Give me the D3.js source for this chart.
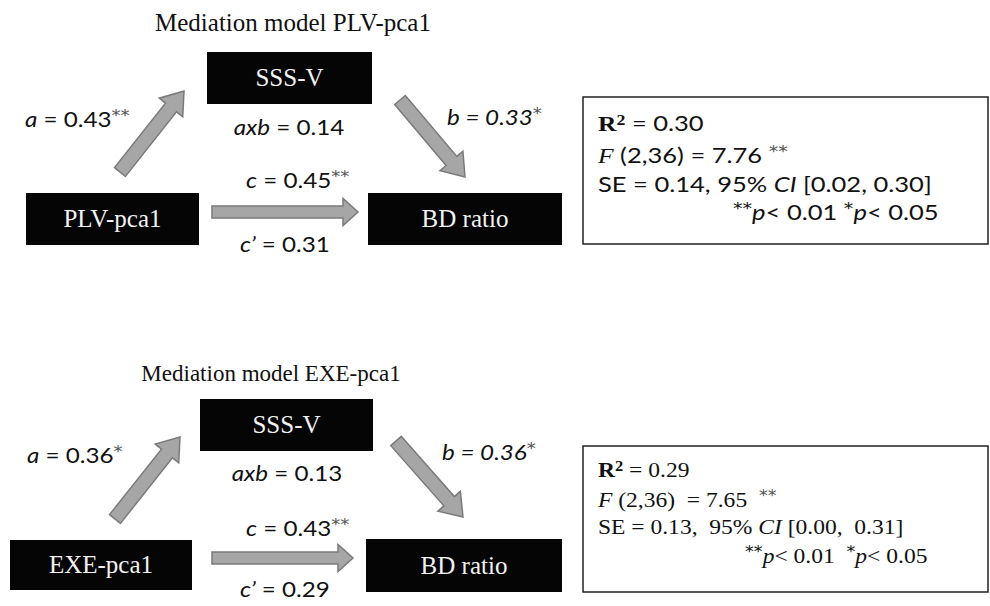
<!DOCTYPE html>
<html>
<head>
<meta charset="utf-8">
<script src="https://cdn.jsdelivr.net/npm/d3@7"></script>
<style>
  body { margin: 0; background: #fff; }
</style>
</head>
<body>
<div id="chart"></div>
<script>
// names and path coefficients, top panel first then bottom panel
const predictors = ["PLV-pca1", "EXE-pca1"];
const mediator = "SSS-V";
const outcome = "BD ratio";
const aCoef = ["0.43", "0.36"];
const aStars = ["**", "*"];
const bCoef = ["0.33", "0.36"];
const bStars = ["*", "*"];
const abCoef = ["0.14", "0.13"];
const cCoef = ["0.45", "0.43"];
const cStars = ["**", "**"];
const cPrimeCoef = ["0.31", "0.29"];
// model summary boxes
const rSquared = ["0.30", "0.29"];
const fDf = "(2,36)";
const fStat = ["7.76", "7.65"];
const seValues = ["0.14", "0.13"];
const ciLow = ["0.02", "0.00"];
const ciHigh = ["0.30", "0.31"];

var width = 990, height = 606;
var serif = "'Liberation Serif', 'Times New Roman', serif";
var sans = "Lato, 'Open Sans', sans-serif";
var starFont = "'DejaVu Sans', sans-serif";

// where each panel sits (pixel layout, not data)
var layout = [
  {
    title: [293, 31, 25], med: [207, 52, 372, 104], pred: [26, 193, 199, 245], out: [368, 193, 562, 245],
    aLab: [25, 127], abLab: [289, 135], bLab: [447, 125], cLab: [246, 188], cpLab: [240, 252],
    aArrow: [120, 172, 184, 91], bArrow: [400, 100, 465, 177], cArrow: [212, 212, 358, 212],
    stats: [583, 97, 988, 244], lines: [131, 163, 192, 220], pX: 733,
    statFont: sans, statSx: 1.16, gap: " "
  },
  {
    title: [271, 381, 23], med: [200, 399, 373, 451], pred: [10, 540, 192, 590], out: [366, 539, 562, 592],
    aLab: [27, 463], abLab: [287, 481], bLab: [442, 460], cLab: [246, 536], cpLab: [240, 597],
    aArrow: [115, 519, 180, 437], bArrow: [396, 441, 463, 517], cArrow: [212, 558, 353, 558],
    stats: [583, 446, 988, 592], lines: [477, 507, 534, 563], pX: 745,
    statFont: serif, statSx: 1.07, gap: "\u00a0\u00a0"
  }
];

var svg = d3.select("#chart")
  .append("svg")
  .attr("width", width)
  .attr("height", height);

// block arrow as one polygon
function arrowPath(a, shaft, head, headLen) {
  var x1 = a[0], y1 = a[1], x2 = a[2], y2 = a[3];
  var L = Math.hypot(x2 - x1, y2 - y1), ux = (x2 - x1) / L, uy = (y2 - y1) / L;
  var px = -uy, py = ux;
  var bx = x2 - ux * headLen, by = y2 - uy * headLen;
  var pts = [
    [x1 + px * shaft, y1 + py * shaft],
    [bx + px * shaft, by + py * shaft],
    [bx + px * head, by + py * head],
    [x2, y2],
    [bx - px * head, by - py * head],
    [bx - px * shaft, by - py * shaft],
    [x1 - px * shaft, y1 - py * shaft]
  ];
  return d3.line()(pts) + "Z";
}

// text made of styled pieces: [string, {i, b, sup, f, fill}], stretched by sx
function richText(g, x, y, anchor, size, family, sx, segs) {
  var t = g.append("text")
    .attr("x", x).attr("y", y)
    .attr("text-anchor", anchor)
    .attr("transform", "translate(" + x + ",0) scale(" + sx + ",1) translate(" + (-x) + ",0)")
    .style("font-family", family)
    .style("font-size", size + "px")
    .style("fill", "#111")
    .style("white-space", "pre");
  var raised = false;
  segs.forEach(function (s) {
    var o = s[1] || {};
    var sp = t.append("tspan").text(s[0]);
    if (o.i) sp.style("font-style", "italic");
    if (o.b) sp.style("font-weight", "bold");
    if (o.f) sp.style("font-family", o.f);
    if (o.fill) sp.style("fill", o.fill);
    if (o.sup === 2) sp.style("font-size", size * 0.7 + "px");
    if (o.sup === 1) sp.style("font-size", size * 0.75 + "px").style("font-family", starFont);
    if (o.sup && !raised) { sp.attr("dy", -size * 0.25); raised = true; }
    else if (!o.sup && raised) { sp.attr("dy", size * 0.25); raised = false; }
  });
  return t;
}

function box(g, r, label) {
  g.append("rect")
    .attr("x", r[0]).attr("y", r[1])
    .attr("width", r[2] - r[0]).attr("height", r[3] - r[1])
    .style("fill", "#050505");
  g.append("text")
    .attr("x", (r[0] + r[2]) / 2)
    .attr("y", (r[1] + r[3]) / 2 + 8)
    .attr("text-anchor", "middle")
    .style("font-family", serif)
    .style("font-size", "25px")
    .style("fill", "#f2f2f2")
    .text(label);
}

layout.forEach(function (L, k) {
  var g = svg.append("g");

  g.append("text")
    .attr("x", L.title[0]).attr("y", L.title[1])
    .attr("text-anchor", "middle")
    .style("font-family", serif)
    .style("font-size", L.title[2] + "px")
    .style("fill", "#111")
    .text("Mediation model " + predictors[k]);

  box(g, L.med, mediator);
  box(g, L.pred, predictors[k]);
  box(g, L.out, outcome);

  // arrows
  [L.aArrow, L.bArrow].forEach(function (a) {
    g.append("path")
      .attr("d", arrowPath(a, 7, 15, 21))
      .style("fill", "#a6a6a6")
      .style("stroke", "#7a7a7a")
      .style("stroke-width", 1.5);
  });
  g.append("path")
    .attr("d", arrowPath(L.cArrow, 6, 13.5, 15))
    .style("fill", "#a6a6a6")
    .style("stroke", "#7a7a7a")
    .style("stroke-width", 1.5);

  // path labels
  var lsx = 1.1, star = "#555";
  richText(g, L.aLab[0], L.aLab[1], "start", 22, sans, lsx,
    [["a", { i: 1 }], [" = " + aCoef[k]], [aStars[k], { sup: 1, fill: star }]]);
  richText(g, L.abLab[0], L.abLab[1], "middle", 22, sans, lsx,
    [["axb", { i: 1 }], [" = " + abCoef[k]]]);
  richText(g, L.bLab[0], L.bLab[1], "start", 22, sans, lsx,
    [["b = " + bCoef[k], { i: 1 }], [bStars[k], { sup: 1, fill: star }]]);
  richText(g, L.cLab[0], L.cLab[1], "start", 22, sans, lsx,
    [["c", { i: 1 }], [" = " + cCoef[k]], [cStars[k], { sup: 1, fill: star }]]);
  richText(g, L.cpLab[0], L.cpLab[1], "start", 22, sans, lsx,
    [["c\u2019", { i: 1 }], [" = " + cPrimeCoef[k]]]);

  // summary box
  var s = L.stats;
  g.append("rect")
    .attr("x", s[0]).attr("y", s[1])
    .attr("width", s[2] - s[0]).attr("height", s[3] - s[1])
    .style("fill", "#fff")
    .style("stroke", "#222")
    .style("stroke-width", 1.5);

  var f = L.statFont, x0 = s[0] + 15, sx = L.statSx, gp = L.gap;
  richText(g, x0, L.lines[0], "start", 22, f, sx,
    [["R", { b: 1, f: serif }], ["2", { sup: 2, b: 1, f: serif }], [" = " + rSquared[k]]]);
  richText(g, x0, L.lines[1], "start", 22, f, sx,
    [["F", { i: 1, f: serif }], [" " + fDf + gp + "= " + fStat[k] + gp], ["**", { sup: 1, fill: star }]]);
  richText(g, x0, L.lines[2], "start", 22, f, sx,
    [["SE = " + seValues[k] + "," + gp + "95% "], ["CI", { i: 1 }],
     [" [" + ciLow[k] + "," + gp + ciHigh[k] + "]"]]);
  richText(g, L.pX, L.lines[3], "start", 22, f, sx,
    [["**", { sup: 1 }], ["p", { i: 1 }], ["< 0.01" + gp], ["*", { sup: 1 }], ["p", { i: 1 }], ["< 0.05"]]);
});
</script>
</body>
</html>
